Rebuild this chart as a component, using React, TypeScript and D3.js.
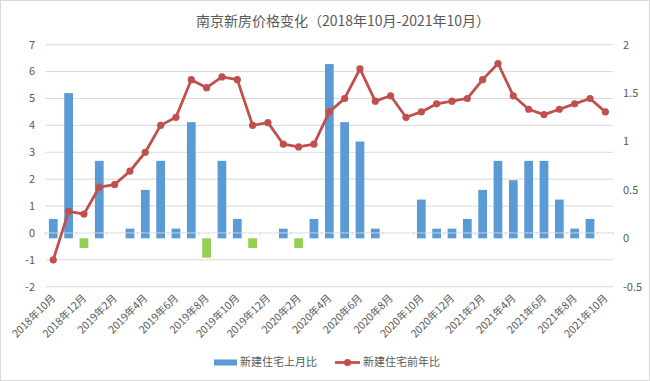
import React from "react";
import * as d3 from "d3";

const months: string[] = [
  "2018年10月","2018年11月","2018年12月","2019年1月","2019年2月","2019年3月","2019年4月","2019年5月","2019年6月",
  "2019年7月","2019年8月","2019年9月","2019年10月","2019年11月","2019年12月","2020年1月","2020年2月","2020年3月",
  "2020年4月","2020年5月","2020年6月","2020年7月","2020年8月","2020年9月","2020年10月","2020年11月","2020年12月",
  "2021年1月","2021年2月","2021年3月","2021年4月","2021年5月","2021年6月","2021年7月","2021年8月","2021年9月","2021年10月"
];
// 新建住宅上月比 (right axis)
const momValues: number[] = [
  0.2, 1.5, -0.1, 0.8, 0, 0.1, 0.5, 0.8, 0.1,
  1.2, -0.2, 0.8, 0.2, -0.1, 0, 0.1, -0.1, 0.2,
  1.8, 1.2, 1.0, 0.1, 0, 0, 0.4, 0.1, 0.1,
  0.2, 0.5, 0.8, 0.6, 0.8, 0.8, 0.4, 0.1, 0.2, 0
];
// 新建住宅前年比 (left axis)
const yoyValues: number[] = [
  -1.0, 0.8, 0.7, 1.7, 1.8, 2.3, 3.0, 4.0, 4.3,
  5.7, 5.4, 5.8, 5.7, 4.0, 4.1, 3.3, 3.2, 3.3,
  4.5, 5.0, 6.1, 4.9, 5.1, 4.3, 4.5, 4.8, 4.9,
  5.0, 5.7, 6.3, 5.1, 4.6, 4.4, 4.6, 4.8, 5.0, 4.5
];
const leftTicks: number[] = [-2, -1, 0, 1, 2, 3, 4, 5, 6, 7];
const rightTicks: number[] = [-0.5, 0, 0.5, 1, 1.5, 2];
const title = "南京新房价格变化（2018年10月-2021年10月）";
const seriesNames: string[] = ["新建住宅上月比", "新建住宅前年比"];

const W = 650, H = 381;
const plot = { left: 45.6, right: 613, top: 44.7, bottom: 286.7 };
const textColor = "#595959";
const gridColor = "#d9d9d9";
const blue = "#5B9BD5";
const green = "#92D050";
const red = "#C0504D";
const font = "'Noto Sans CJK SC', 'Noto Sans', sans-serif";

export default function App() {
  const x = d3.scaleBand<string>().domain(months).range([plot.left, plot.right]).paddingInner(0.43).paddingOuter(0.215);
  const xc = (m: string) => (x(m) as number) + x.bandwidth() / 2;
  const yL = d3.scaleLinear().domain([-2, 7]).range([plot.bottom, plot.top]);
  const yR = d3.scaleLinear().domain([-0.5, 2]).range([plot.bottom, plot.top]);
  const step = x.step();

  const line = d3.line<number>().x((_, i) => xc(months[i])).y(d => yL(d));
  const axisY = yL(0);

  return (
    <svg width={W} height={H} style={{ position: "absolute", left: 0, top: 0, background: "#fff" }} fontFamily={font}>
      <rect x={0.5} y={0.5} width={W - 1} height={H - 1} fill="#fff" stroke={gridColor} />
      <text x={343} y={26} textAnchor="middle" fontSize={14} fill={textColor}>{title}</text>
      {leftTicks.map(t => (
        <g key={"g" + t}>
          {t !== 0 && <line x1={plot.left} x2={plot.right} y1={yL(t)} y2={yL(t)} stroke={gridColor} strokeWidth={1} />}
          <text x={35} y={yL(t)} dy="0.35em" textAnchor="end" fontSize={11} fill={textColor}>{t}</text>
        </g>
      ))}
      {rightTicks.map(t => (
        <text key={"r" + t} x={623} y={yR(t)} dy="0.35em" textAnchor="start" fontSize={11} fill={textColor}>{t}</text>
      ))}
      {months.map((m, i) => {
        const v = momValues[i];
        if (v === 0) return null;
        const y0 = yR(0), y1 = yR(v);
        return (
          <rect key={"b" + i} x={x(m)} width={x.bandwidth()} y={Math.min(y0, y1)} height={Math.abs(y1 - y0)}
            fill={v < 0 ? green : blue} />
        );
      })}
      <line x1={plot.left} x2={plot.right} y1={axisY} y2={axisY} stroke={gridColor} strokeWidth={1} opacity={0.85} />
      {months.map((m, i) => i % 2 === 0 ? (
        <line key={"tk" + i} x1={plot.left + i * step} x2={plot.left + i * step} y1={axisY - 1} y2={axisY + 2} stroke={gridColor} />
      ) : null)}
      <line x1={plot.right} x2={plot.right} y1={axisY - 1} y2={axisY + 2} stroke={gridColor} />
      <path d={line(yoyValues) || ""} fill="none" stroke={red} strokeWidth={2.8} strokeLinejoin="round" />
      {yoyValues.map((v, i) => (
        <circle key={"c" + i} cx={xc(months[i])} cy={yL(v)} r={3.6} fill={red} />
      ))}
      {months.map((m, i) => i % 2 === 0 ? (
        <text key={"xl" + i} transform={`translate(${xc(m) + 3},${plot.bottom + 12}) rotate(-45)`} textAnchor="end"
          fontSize={10.5} fill={textColor}>{m}</text>
      ) : null)}
      <g>
        <rect x={214} y={359.5} width={23} height={6} fill={blue} />
        <text x={240} y={362.5} dy="0.35em" fontSize={11} fill={textColor}>{seriesNames[0]}</text>
        <line x1={335} x2={360} y1={362.5} y2={362.5} stroke={red} strokeWidth={2.8} />
        <circle cx={347.5} cy={362.5} r={3.6} fill={red} />
        <text x={363} y={362.5} dy="0.35em" fontSize={11} fill={textColor}>{seriesNames[1]}</text>
      </g>
    </svg>
  );
}
